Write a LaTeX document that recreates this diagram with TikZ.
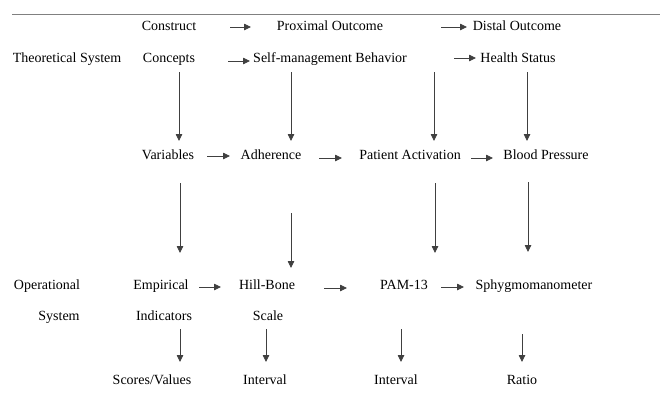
\documentclass[tikz,border=0pt]{standalone}
\usepackage{fontspec}
\setmainfont{Liberation Serif}
\usetikzlibrary{arrows.meta}
\begin{document}
\begin{tikzpicture}[x=1pt,y=-1pt,
  lbl/.style={anchor=base,inner sep=0pt,font=\fontsize{14}{16}\selectfont,text=black},
  arr/.style={draw=black!75,line width=0.8pt,-{Triangle[length=7pt,width=6.5pt]}},
  rule/.style={draw=black!50,line width=1pt}]
\useasboundingbox (0,0) rectangle (660,397);
\coordinate (rl) at (12,14);
\coordinate (rr) at (660,14);
\draw[rule] (rl) -- (rr);
% row 1
\node[lbl] (construct) at (169,30) {Construct};
\node[lbl] (proximal) at (330,30) {Proximal Outcome};
\node[lbl] (distal) at (517,30) {Distal Outcome};
% row 2
\node[lbl] (theo) at (67,62) {Theoretical System};
\node[lbl] (concepts) at (169,62) {Concepts};
\node[lbl] (selfm) at (330,62) {Self-management Behavior};
\node[lbl] (health) at (518,62) {Health Status};
% row 3
\node[lbl] (variables) at (168,159) {Variables};
\node[lbl] (adherence) at (271,159) {Adherence};
\node[lbl] (patient) at (410,159) {Patient Activation};
\node[lbl] (blood) at (546,159) {Blood Pressure};
% row 4
\node[lbl] (operational) at (47,289) {Operational};
\node[lbl] (empirical) at (161,289) {Empirical};
\node[lbl] (hillbone) at (267,289) {Hill-Bone};
\node[lbl] (pam) at (404,289) {PAM-13};
\node[lbl] (sphyg) at (534,289) {Sphygmomanometer};
% row 5
\node[lbl] (system) at (59,320) {System};
\node[lbl] (indicators) at (164,320) {Indicators};
\node[lbl] (scale) at (268,320) {Scale};
% row 6
\node[lbl] (scores) at (152,384) {Scores/Values};
\node[lbl] (int1) at (265,384) {Interval};
\node[lbl] (int2) at (396,384) {Interval};
\node[lbl] (ratio) at (522,384) {Ratio};
% horizontal arrows
\coordinate (h1a) at (230,27); \coordinate (h1b) at (251,27);
\coordinate (h2a) at (441,27); \coordinate (h2b) at (467,27);
\coordinate (h3a) at (228,61); \coordinate (h3b) at (250,61);
\coordinate (h4a) at (454,58); \coordinate (h4b) at (476,58);
\coordinate (h5a) at (207,156); \coordinate (h5b) at (230,156);
\coordinate (h6a) at (319,158); \coordinate (h6b) at (342,158);
\coordinate (h7a) at (471,158); \coordinate (h7b) at (493,158);
\coordinate (h8a) at (199,287); \coordinate (h8b) at (221,287);
\coordinate (h9a) at (324,288); \coordinate (h9b) at (347,288);
\coordinate (h10a) at (441,287); \coordinate (h10b) at (464,287);
\foreach \i in {1,...,10} \draw[arr] (h\i a) -- (h\i b);
% vertical arrows
\coordinate (v1a) at (179,72); \coordinate (v1b) at (179,141);
\coordinate (v2a) at (291,72); \coordinate (v2b) at (291,141);
\coordinate (v3a) at (434,72); \coordinate (v3b) at (434,141);
\coordinate (v4a) at (527,72); \coordinate (v4b) at (527,141);
\coordinate (v5a) at (180,183); \coordinate (v5b) at (180,253);
\coordinate (v6a) at (291,213); \coordinate (v6b) at (291,268);
\coordinate (v7a) at (435,183); \coordinate (v7b) at (435,253);
\coordinate (v8a) at (528,182); \coordinate (v8b) at (528,252);
\coordinate (v9a) at (180,329); \coordinate (v9b) at (180,362);
\coordinate (v10a) at (266,329); \coordinate (v10b) at (266,362);
\coordinate (v11a) at (401,329); \coordinate (v11b) at (401,362);
\coordinate (v12a) at (522,334); \coordinate (v12b) at (522,362);
\foreach \i in {1,...,12} \draw[arr] (v\i a) -- (v\i b);
\end{tikzpicture}
\end{document}
